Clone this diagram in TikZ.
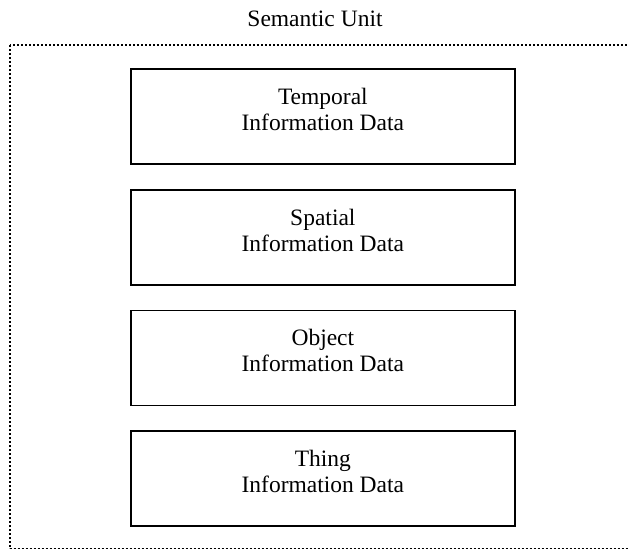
\documentclass[tikz,border=0pt]{standalone}
\usepackage{fontspec}
\setmainfont{Liberation Serif}
\begin{document}
\begin{tikzpicture}[x=1pt,y=-1pt,
  databox/.style={draw=black, line width=1.7pt, minimum width=384pt, minimum height=95pt, inner sep=0pt, anchor=north west},
  datatext/.style={align=center, inner sep=0pt, font=\fontsize{23.5}{26}\selectfont},
  frame/.style={draw=black, line width=2pt, dash pattern=on 2pt off 2pt}]
\path[use as bounding box, clip] (0,0) rectangle (628,548);
\fill[white] (0,0) rectangle (628,548);
% outer dotted frame
\coordinate (fa) at (10,45);
\coordinate (fb) at (632,549.4);
\draw[frame] (fa) rectangle (fb);
\node[datatext, anchor=base] (title) at (315,27) {Semantic Unit};
% boxes
\node[databox] (b1) at (130,68) {};
\node[databox] (b2) at (130,189) {};
\node[databox] (b3) at (130,309.5) {};
\node[databox] (b4) at (130,430) {};
\node[datatext] (t1) at ([yshift=7pt]b1.center) {Temporal\\Information Data};
\node[datatext] (t2) at ([yshift=7pt]b2.center) {Spatial\\Information Data};
\node[datatext] (t3) at ([yshift=7pt]b3.center) {Object\\Information Data};
\node[datatext] (t4) at ([yshift=7pt]b4.center) {Thing\\Information Data};
\end{tikzpicture}
\end{document}
